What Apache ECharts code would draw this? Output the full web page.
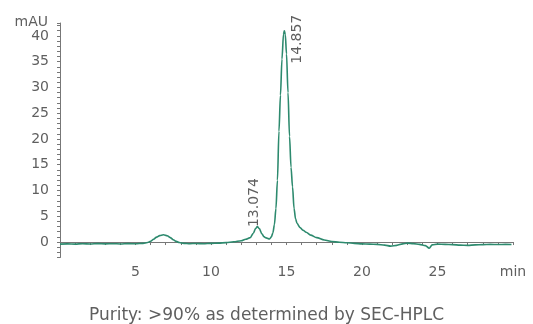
<!DOCTYPE html>
<html>
<head>
<meta charset="utf-8">
<script src="https://cdn.jsdelivr.net/npm/echarts@6/dist/echarts.min.js"></script>
<style>
html,body{margin:0;padding:0;background:#fff}
#chart{width:533px;height:324px}
</style>
</head>
<body>
<div id="chart"></div>
<script>
// retention time (min) and absorbance (mAU)
const times = [0.0,0.5,1.0,1.5,2.0,2.5,3.0,3.5,4.0,4.5,5.0,5.5,5.8,6.0,6.2,6.4,6.6,6.85,7.1,7.3,7.5,7.7,7.9,8.2,8.6,9.0,9.5,10.0,10.5,11.0,11.5,12.0,12.3,12.6,12.8,12.95,13.07,13.2,13.37,13.5,13.65,13.88,14.0,14.1,14.2,14.3,14.4,14.5,14.6,14.7,14.8,14.857,14.92,15.0,15.1,15.2,15.3,15.4,15.5,15.6,15.7,15.9,16.1,16.3,16.6,17.0,17.5,18.0,18.5,19.0,19.5,20.0,20.5,21.0,21.5,21.9,22.3,22.7,23.0,23.4,23.8,24.2,24.45,24.65,25.0,25.5,26.0,26.5,27.0,27.5,28.0,28.5,29.0,29.5,29.9];
const signal = [-0.40,-0.35,-0.40,-0.33,-0.38,-0.30,-0.36,-0.32,-0.37,-0.30,-0.34,-0.25,-0.10,0.15,0.55,0.95,1.25,1.42,1.22,0.85,0.45,0.12,-0.10,-0.25,-0.32,-0.27,-0.33,-0.26,-0.22,-0.12,0.05,0.25,0.55,0.85,1.7,2.6,3.0,2.6,1.6,1.05,0.8,0.6,1.0,1.8,3.4,6.5,12.0,21.5,28.5,35.5,40.3,41.0,40.3,36.5,29.0,20.5,14.5,10.7,6.5,4.5,3.6,2.8,2.3,1.9,1.35,0.85,0.4,0.1,-0.05,-0.15,-0.25,-0.35,-0.40,-0.45,-0.60,-0.80,-0.65,-0.35,-0.22,-0.30,-0.45,-0.70,-1.20,-0.55,-0.40,-0.45,-0.50,-0.60,-0.65,-0.55,-0.50,-0.45,-0.48,-0.45,-0.47];

const peakTimes = [13.074, 14.857];
const peakHeights = [3.0, 41.0];
const peakNames = ['13.074', '14.857'];

const caption = 'Purity: >90% as determined by SEC-HPLC';

const font = 'DejaVu Sans';
const grey = '#5f5f5f';

var chart = echarts.init(document.getElementById('chart'));

var option = {
    animation: false,
    title: {
        text: caption,
        left: 'center',
        top: 302,
        textStyle: { fontFamily: font, fontSize: 17, fontWeight: 'normal', color: grey }
    },
    grid: { left: 60, right: 20, top: 23, bottom: 66.5, outerBoundsMode: 'none' },
    xAxis: {
        type: 'value',
        min: 0,
        max: 30,
        interval: 1,
        splitLine: { show: false },
        axisLine: { lineStyle: { color: '#777', width: 1 } },
        axisTick: { length: 3, lineStyle: { color: '#777' } },
        axisLabel: {
            margin: 8,
            fontFamily: font,
            fontSize: 14,
            color: grey,
            formatter: function (v) {
                if (v === 30) return 'min';
                return (v > 0 && v % 5 === 0) ? String(v) : '';
            }
        }
    },
    yAxis: {
        type: 'value',
        min: -3,
        max: 42.5,
        interval: 1,
        name: 'mAU',
        nameLocation: 'end',
        nameGap: 0,
        nameTextStyle: {
            fontFamily: font, fontSize: 14, color: grey,
            align: 'right', verticalAlign: 'middle', padding: [0, 12, 0, 0]
        },
        splitLine: { show: false },
        axisLine: { show: true, lineStyle: { color: '#777', width: 1 } },
        axisTick: { show: true, length: 3, lineStyle: { color: '#777' } },
        axisLabel: {
            margin: 11,
            fontFamily: font,
            fontSize: 14,
            color: grey,
            formatter: function (v) {
                return (v >= 0 && v % 5 === 0 && v <= 40) ? String(v) : '';
            }
        }
    },
    series: [{
        type: 'line',
        data: times.map(function (t, i) { return [t, signal[i]]; }),
        showSymbol: false,
        smooth: 0.3,
        smoothMonotone: 'x',
        lineStyle: { color: '#2d8a6e', width: 1.6 },
        markPoint: {
            symbol: 'circle',
            symbolSize: 0,
            label: {
                show: true,
                position: 'inside',
                rotate: 90,
                align: 'center',
                verticalAlign: 'middle',
                fontFamily: font,
                fontSize: 14,
                color: grey,
                formatter: function (p) { return p.name; }
            },
            data: [
                { name: peakNames[0], coord: [peakTimes[0], peakHeights[0]], label: { offset: [24, -3.5] } },
                { name: peakNames[1], coord: [peakTimes[1], peakHeights[1]], label: { offset: [-8.5, 13] } }
            ]
        }
    }]
};
chart.setOption(option);
</script>
</body>
</html>
